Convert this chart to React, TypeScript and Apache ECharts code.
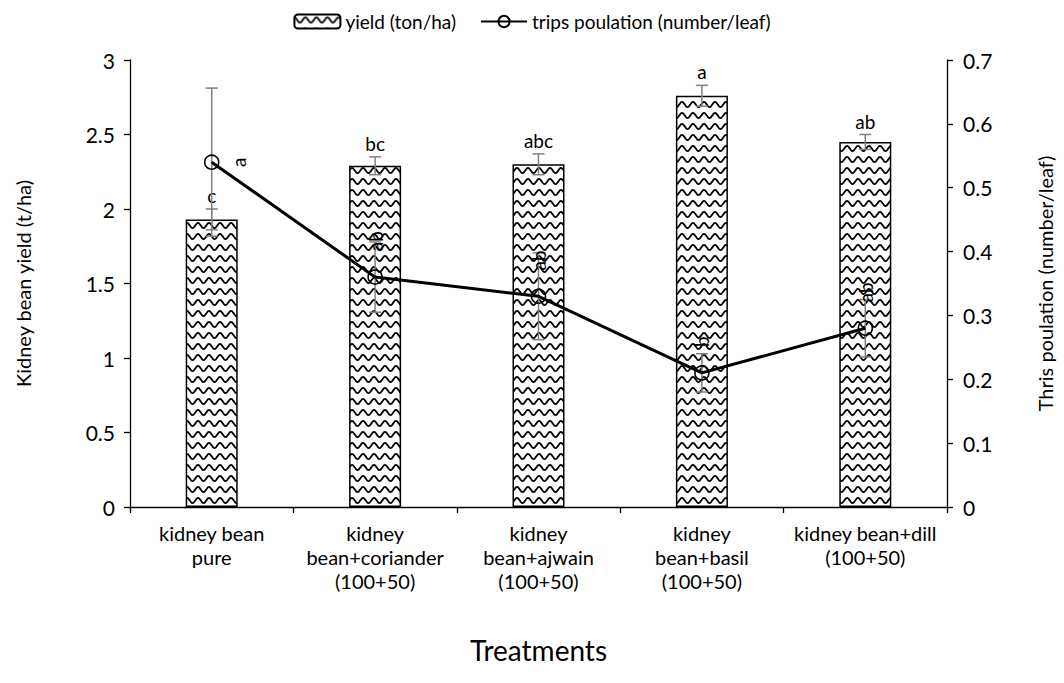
import React, { useEffect, useRef } from "react";
import * as echarts from "echarts";

const categories = [
  "kidney bean\npure",
  "kidney\nbean+coriander\n(100+50)",
  "kidney\nbean+ajwain\n(100+50)",
  "kidney\nbean+basil\n(100+50)",
  "kidney bean+dill\n(100+50)",
];
const yieldValues = [1.93, 2.29, 2.3, 2.76, 2.45];
const yieldErrors = [0.07, 0.06, 0.07, 0.07, 0.05];
const yieldLetters = ["c", "bc", "abc", "a", "ab"];
const thripsValues = [0.54, 0.36, 0.33, 0.21, 0.28];
const thripsErrors = [0.116, 0.055, 0.068, 0.03, 0.045];
const thripsLetters = ["a", "ab", "ab", "b", "ab"];

const FONT = "Lato, 'Open Sans', sans-serif";

function makeWave(): any {
  const w = 11;
  const h = 11;
  const c = document.createElement("canvas");
  c.width = w;
  c.height = h;
  const ctx = c.getContext("2d")!;
  ctx.fillStyle = "#fff";
  ctx.fillRect(0, 0, w, h);
  ctx.strokeStyle = "#000";
  ctx.lineWidth = 1.8;
  ctx.beginPath();
  for (let i = -2; i <= 26; i++) {
    const x = i * 0.5;
    const y = 5.5 - 2.6 * Math.cos((2 * Math.PI * x) / w);
    if (i === -2) ctx.moveTo(x, y);
    else ctx.lineTo(x, y);
  }
  ctx.stroke();
  return {
    image: c.toDataURL(),
    imageWidth: w,
    imageHeight: h,
    repeat: "repeat",
  };
}

function errorRenderer(letters: string[] | null, capHalf: number) {
  return (params: any, api: any) => {
    const i = api.value(0);
    const v = api.value(1);
    const e = api.value(2);
    const top = api.coord([i, v + e]);
    const bot = api.coord([i, v - e]);
    const style = { stroke: "#808080", lineWidth: 1.5 };
    const children: any[] = [
      { type: "line", shape: { x1: top[0], y1: top[1], x2: bot[0], y2: bot[1] }, style },
      { type: "line", shape: { x1: top[0] - capHalf, y1: top[1], x2: top[0] + capHalf, y2: top[1] }, style },
      { type: "line", shape: { x1: bot[0] - capHalf, y1: bot[1], x2: bot[0] + capHalf, y2: bot[1] }, style },
    ];
    if (letters) {
      children.push({
        type: "text",
        x: top[0],
        y: top[1] - 4,
        style: {
          text: letters[params.dataIndex],
          fill: "#000",
          font: `19px ${FONT}`,
          align: "center",
          verticalAlign: "bottom",
        },
      });
    }
    return { type: "group", children };
  };
}

export default function App() {
  const ref = useRef<HTMLDivElement>(null);
  useEffect(() => {
    if (!ref.current) return;
    const chart = echarts.init(ref.current, undefined, { renderer: "svg" });
    const wave = makeWave();
    const axisLine = { show: true, lineStyle: { color: "#000", width: 1.3 } };
    const axisTick = { show: true, length: 6, lineStyle: { color: "#000", width: 1.3 } };
    chart.setOption({
      animation: false,
      backgroundColor: "#fff",
      textStyle: { fontFamily: FONT },
      legend: {
        top: 7,
        left: "center",
        itemWidth: 46,
        itemHeight: 14,
        itemGap: 24,
        textStyle: { fontSize: 19, color: "#000", fontFamily: FONT },
        data: ["yield (ton/ha)", "trips poulation (number/leaf)"],
      },
      grid: { left: 130, right: 117, top: 60, bottom: 176 },
      xAxis: {
        type: "category",
        data: categories,
        axisLine,
        axisTick: { ...axisTick, alignWithLabel: false },
        axisLabel: {
          interval: 0,
          fontSize: 20,
          lineHeight: 24,
          margin: 14,
          color: "#000",
          fontFamily: FONT,
        },
        name: "Treatments",
        nameLocation: "middle",
        nameGap: 129,
        nameTextStyle: { fontSize: 28, color: "#000", fontFamily: FONT },
      },
      yAxis: [
        {
          type: "value",
          min: 0,
          max: 3,
          interval: 0.5,
          axisLine,
          axisTick,
          splitLine: { show: false },
          axisLabel: { fontSize: 21, color: "#000", margin: 15, fontFamily: FONT },
          name: "Kidney bean yield (t/ha)",
          nameLocation: "middle",
          nameRotate: 90,
          nameGap: 97,
          nameTextStyle: { fontSize: 20, color: "#000", fontFamily: FONT },
        },
        {
          type: "value",
          position: "right",
          min: 0,
          max: 0.7,
          interval: 0.1,
          axisLine,
          axisTick,
          splitLine: { show: false },
          axisLabel: { fontSize: 21, color: "#000", margin: 16, fontFamily: FONT },
          name: "Thris poulation (number/leaf)",
          nameLocation: "middle",
          nameRotate: 90,
          nameGap: 88,
          nameTextStyle: { fontSize: 20, color: "#000", fontFamily: FONT },
        },
      ],
      series: [
        {
          name: "yield (ton/ha)",
          type: "bar",
          yAxisIndex: 0,
          barWidth: 52,
          data: yieldValues,
          itemStyle: { color: wave, borderColor: "#000", borderWidth: 1.5 },
          z: 2,
        },
        {
          type: "custom",
          yAxisIndex: 0,
          data: yieldValues.map((v, i) => [i, v, yieldErrors[i]]),
          renderItem: errorRenderer(yieldLetters, 6),
          z: 3,
          silent: true,
        },
        {
          type: "custom",
          yAxisIndex: 1,
          data: thripsValues.map((v, i) => [i, v, thripsErrors[i]]),
          renderItem: errorRenderer(null, 6),
          z: 4,
          silent: true,
        },
        {
          name: "trips poulation (number/leaf)",
          type: "line",
          yAxisIndex: 1,
          symbol: "circle",
          symbolSize: 14,
          z: 5,
          lineStyle: { color: "#000", width: 3 },
          itemStyle: { color: "rgba(255,255,255,0)", borderColor: "#000", borderWidth: 1.6 },
          label: {
            show: true,
            position: "top",
            distance: 18,
            rotate: 90,
            align: "left",
            verticalAlign: "middle",
            fontSize: 19,
            color: "#000",
            fontFamily: FONT,
            formatter: (p: any) => thripsLetters[p.dataIndex],
          },
          data: thripsValues.map((v, i) =>
            i === 0
              ? { value: v, label: { position: "right", distance: 19, align: "center", verticalAlign: "middle" } }
              : v
          ),
        },
      ],
    });
    return () => chart.dispose();
  }, []);
  return (
    <div
      ref={ref}
      style={{ position: "fixed", left: 0, top: 0, width: 1064, height: 683, background: "#fff" }}
    />
  );
}
